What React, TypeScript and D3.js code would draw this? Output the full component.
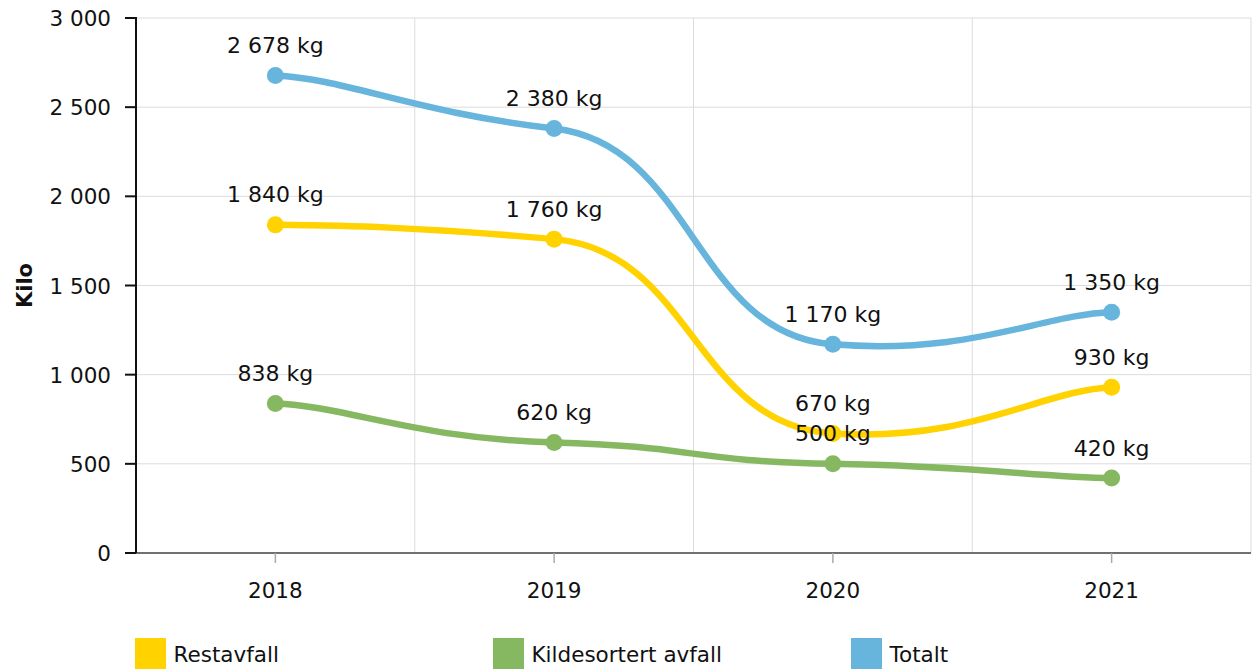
import React from "react";
import * as d3 from "d3";

const categories = ["2018", "2019", "2020", "2021"];
const restavfall = [1840, 1760, 670, 930];
const kildesortert = [838, 620, 500, 420];
const totalt = [2678, 2380, 1170, 1350];
const yTicks = [0, 500, 1000, 1500, 2000, 2500, 3000];
const seriesNames = ["Restavfall", "Kildesortert avfall", "Totalt"];
const seriesColors = ["#FFD200", "#86B862", "#67B5DC"];

const W = 1253;
const H = 670;
const left = 136;
const right = 1251;
const top = 18;
const bottom = 553;
const FONT = "'DejaVu Sans', Verdana, sans-serif";

const fmt = (v: number) => d3.format(",")(v).replace(/,/g, " ");

// smoothing curve with separate horizontal / vertical tension (for d3.line)
function tensionCurve(kx: number, ky: number) {
  return (context: any) => {
    let pts: [number, number][] = [];
    return {
      areaStart() {},
      areaEnd() {},
      lineStart() {
        pts = [];
      },
      point(x: number, y: number) {
        pts.push([+x, +y]);
      },
      lineEnd() {
        if (!pts.length) return;
        context.moveTo(pts[0][0], pts[0][1]);
        for (let i = 0; i < pts.length - 1; i++) {
          const p0 = pts[Math.max(i - 1, 0)];
          const p1 = pts[i];
          const p2 = pts[i + 1];
          const p3 = pts[Math.min(i + 2, pts.length - 1)];
          context.bezierCurveTo(
            p1[0] + (p2[0] - p0[0]) * kx,
            p1[1] + (p2[1] - p0[1]) * ky,
            p2[0] - (p3[0] - p1[0]) * kx,
            p2[1] - (p3[1] - p1[1]) * ky,
            p2[0],
            p2[1]
          );
        }
      },
    };
  };
}

export default function App() {
  const x = d3.scaleBand<string>().domain(categories).range([left, right]).padding(0);
  const y = d3.scaleLinear().domain([0, 3000]).range([bottom, top]);
  const cx = (c: string) => (x(c) as number) + x.bandwidth() / 2;
  const line = d3
    .line<number>()
    .x((_, i) => cx(categories[i]))
    .y((d) => y(d))
    .curve(tensionCurve(0.25, 0.06) as any);

  const series = [restavfall, kildesortert, totalt];
  const legendX = [135, 493, 851];

  return (
    <svg width={W} height={H} style={{ position: "absolute", left: 0, top: 0 }} fontFamily={FONT}>
      <rect width={W} height={H} fill="#fff" />
      {yTicks.map((t) => (
        <line key={"hg" + t} x1={left} x2={right} y1={y(t)} y2={y(t)} stroke="#dcdcdc" strokeWidth={1} />
      ))}
      {categories.slice(1).map((c) => (
        <line key={"vg" + c} x1={x(c)} x2={x(c)} y1={top} y2={bottom} stroke="#dcdcdc" strokeWidth={1} />
      ))}
      <line x1={right} x2={right} y1={top} y2={bottom} stroke="#dcdcdc" strokeWidth={1} />
      <line x1={left} x2={right} y1={bottom} y2={bottom} stroke="#707070" strokeWidth={2} />
      {categories.map((c) => (
        <g key={"xt" + c}>
          <line x1={cx(c)} x2={cx(c)} y1={bottom} y2={bottom + 10} stroke="#aaa" strokeWidth={1.5} />
          <text x={cx(c)} y={597.5} textAnchor="middle" fontSize={21.5} fill="#111">
            {c}
          </text>
        </g>
      ))}
      <line x1={left} x2={left} y1={top - 1} y2={bottom} stroke="#111" strokeWidth={2} />
      {yTicks.map((t) => (
        <g key={"yt" + t}>
          <line x1={125} x2={left} y1={y(t)} y2={y(t)} stroke="#111" strokeWidth={2} />
          <text x={111} y={y(t) + 8} textAnchor="end" fontSize={21.5} fill="#111">
            {fmt(t)}
          </text>
        </g>
      ))}
      <text
        transform={`translate(32,${(top + bottom) / 2}) rotate(-90)`}
        textAnchor="middle"
        fontSize={21}
        fontWeight="bold"
        fill="#111"
      >
        Kilo
      </text>
      {series.map((s, si) => (
        <g key={"s" + si}>
          <path d={line(s) as string} fill="none" stroke={seriesColors[si]} strokeWidth={6.5} strokeLinecap="round" />
          {s.map((v, i) => (
            <circle key={i} cx={cx(categories[i])} cy={y(v)} r={8.5} fill={seriesColors[si]} />
          ))}
        </g>
      ))}
      {series.map((s, si) => (
        <g key={"l" + si}>
          {s.map((v, i) => (
            <text key={i} x={cx(categories[i])} y={y(v) - 22.5} textAnchor="middle" fontSize={22} fill="#111">
              {fmt(v) + " kg"}
            </text>
          ))}
        </g>
      ))}
      {seriesNames.map((n, i) => (
        <g key={"lg" + n}>
          <rect x={legendX[i]} y={638} width={31} height={31} fill={seriesColors[i]} />
          <text x={legendX[i] + 38.5} y={661.5} fontSize={21.5} fill="#111">
            {n}
          </text>
        </g>
      ))}
    </svg>
  );
}
